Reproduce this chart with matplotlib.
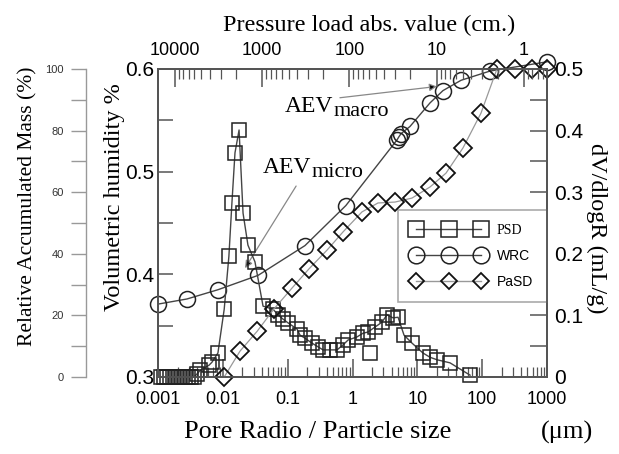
import matplotlib
matplotlib.use('Agg')
import matplotlib.pyplot as plt
from matplotlib.ticker import FixedLocator, LogLocator, NullFormatter, MultipleLocator
from matplotlib.lines import Line2D

# PSD (dV/dlogR, mL/g) -- squares
psd_x = [0.00111, 0.00124, 0.00138, 0.00153, 0.0017, 0.0019, 0.0021, 0.00234, 0.0026, 0.0029,
         0.0032, 0.0036, 0.0040, 0.0045, 0.0061, 0.0068, 0.0084, 0.0105, 0.0124, 0.0138,
         0.0154, 0.0178, 0.0205, 0.0244, 0.0313, 0.0417, 0.0594, 0.071, 0.0847, 0.101,
         0.139, 0.155, 0.185, 0.237, 0.294, 0.351, 0.45, 0.577, 0.714, 0.853,
         1.17, 1.45, 1.73, 2.22, 2.85, 3.40, 4.22, 5.04, 6.23, 8.28,
         12.2, 15.7, 20.1, 31.9, 65.0]
psd_y = [0, 0, 0, 0, 0, 0, 0, 0, 0, 0,
         0, 0, 0.005, 0.011, 0.019, 0.024, 0.039, 0.110, 0.196, 0.282,
         0.364, 0.401, 0.266, 0.214, 0.187, 0.115, 0.110, 0.101, 0.094, 0.088,
         0.078, 0.068, 0.063, 0.055, 0.049, 0.044, 0.044, 0.044, 0.052, 0.060,
         0.065, 0.071, 0.073, 0.081, 0.089, 0.101, 0.096, 0.097, 0.068, 0.055,
         0.039, 0.032, 0.028, 0.023, 0.003]
psd_out_x = [1.86]
psd_out_y = [0.039]

# WRC (volumetric humidity) -- circles
wrc_x = [0.001, 0.0028, 0.0084, 0.035, 0.185, 0.79, 4.87, 5.2, 5.6, 7.7, 15.7, 24.9, 47.2, 132, 1000]
wrc_y = [0.371, 0.376, 0.385, 0.399, 0.428, 0.467, 0.531, 0.534, 0.537, 0.544, 0.567, 0.579, 0.589, 0.598, 0.607]

# PaSD (relative accumulated mass %) -- diamonds
pasd_x = [0.0105, 0.0184, 0.034, 0.0615, 0.117, 0.213, 0.405, 0.714, 1.40, 2.47,
          4.53, 8.28, 15.7, 27.7, 50.7, 96, 169, 321, 587, 1000]
pasd_y = [0, 8.4, 14.9, 22.1, 28.9, 35.1, 41.2, 47.1, 53.6, 56.5,
          56.8, 58.1, 61.7, 66.2, 74.4, 85.7, 100, 100, 100, 100]

x_ticks = [0.001, 0.01, 0.1, 1, 10, 100, 1000]
x_labels = ['0.001', '0.01', '0.1', '1', '10', '100', '1000']
top_ticks = [10000, 1000, 100, 10, 1]
top_labels = ['10000', '1000', '100', '10', '1']

serif = 'Liberation Serif'
sans = 'Liberation Sans'
spine_c = '#555555'
line_c = '#444444'

plt.rcParams['font.family'] = sans
plt.rcParams['axes.linewidth'] = 1.3

W, H = 619, 454
fig = plt.figure(figsize=(W / 100, H / 100), dpi=100)
L, R, T, B = 158, 547, 69, 377
ax = fig.add_axes([L / W, 1 - B / H, (R - L) / W, (B - T) / H])

# main: WRC on inner left axis
ax.set_xscale('log')
ax.set_xlim(0.001, 1000)
ax.set_ylim(0.3, 0.6)
ax.plot(wrc_x, wrc_y, color=line_c, lw=1.0, marker='o', ms=11.5, mfc='none',
        mec='#222222', mew=1.1, clip_on=False, zorder=3)

ax.xaxis.set_major_locator(FixedLocator(x_ticks))
ax.set_xticklabels(x_labels)
ax.xaxis.set_minor_locator(LogLocator(base=10, subs=range(2, 10), numticks=20))
ax.xaxis.set_minor_formatter(NullFormatter())
ax.yaxis.set_major_locator(FixedLocator([0.3, 0.4, 0.5, 0.6]))
ax.set_yticklabels(['0.3', '0.4', '0.5', '0.6'])
ax.yaxis.set_minor_locator(FixedLocator([0.35, 0.45, 0.55]))
ax.tick_params(axis='x', which='major', direction='in', length=13, width=1.1, color=spine_c,
               labelsize=13, pad=10, top=False)
ax.tick_params(axis='x', which='minor', direction='in', length=7, width=0.9, color=spine_c, top=False)
ax.tick_params(axis='y', which='major', direction='in', length=11, width=1.1, color=spine_c,
               labelsize=15, pad=3, right=False)
ax.tick_params(axis='y', which='minor', direction='in', length=11, width=1.1, color=spine_c, right=False)
for s in ax.spines.values():
    s.set_color(spine_c)

# right: PSD
axr = ax.twinx()
axr.set_ylim(0, 0.5)
axr.plot(psd_x, psd_y, color=line_c, lw=1.0, marker='s', ms=10, mfc='none',
         mec='#222222', mew=1.1, clip_on=False, zorder=3)
axr.plot(psd_out_x, psd_out_y, ls='none', marker='s', ms=10, mfc='none',
         mec='#222222', mew=1.1, clip_on=False, zorder=3)
axr.yaxis.set_major_locator(FixedLocator([0, 0.1, 0.2, 0.3, 0.4, 0.5]))
axr.set_yticklabels(['0', '0.1', '0.2', '0.3', '0.4', '0.5'])
axr.yaxis.set_minor_locator(FixedLocator([0.05, 0.15, 0.25, 0.35, 0.45]))
axr.tick_params(axis='y', which='both', direction='in', length=12, width=1.1, color=spine_c,
                labelsize=15, pad=5)
for s in axr.spines.values():
    s.set_color(spine_c)

# outer left: PaSD
axm = ax.twinx()
axm.set_ylim(0, 100)
axm.plot(pasd_x, pasd_y, color='#999999', lw=0.9, marker='D', ms=9.5, mfc='none',
         mec='#111111', mew=1.3, clip_on=False, zorder=3)
for k in ['top', 'right', 'bottom']:
    axm.spines[k].set_visible(False)
axm.spines['left'].set_visible(True)
axm.spines['left'].set_position(('outward', (L - 86) / 100 * 72))
axm.spines['left'].set_color('#999999')
axm.spines['left'].set_linewidth(1.0)
axm.yaxis.set_ticks_position('left')
axm.yaxis.set_label_position('left')
axm.yaxis.set_major_locator(MultipleLocator(20))
axm.yaxis.set_minor_locator(MultipleLocator(10))
axm.tick_params(axis='y', which='both', direction='out', length=11, width=1.0,
                color='#999999', labelsize=8, labelcolor='#333333', pad=5)

# top: pressure load
axt = ax.twiny()
axt.set_xscale('log')
axt.set_xlim(15660, 0.545)
axt.xaxis.set_major_locator(FixedLocator(top_ticks))
axt.set_xticklabels(top_labels)
axt.xaxis.set_minor_locator(LogLocator(base=10, subs=range(2, 10), numticks=20))
axt.xaxis.set_minor_formatter(NullFormatter())
axt.tick_params(axis='x', which='major', direction='in', length=13, width=1.1, color=spine_c,
                labelsize=13, pad=7)
axt.tick_params(axis='x', which='minor', direction='in', length=7, width=0.9, color=spine_c)
for s in axt.spines.values():
    s.set_color(spine_c)

# AEV annotations
def aev(xf, yf, sub, tip, start):
    t = ax.text(xf, yf, 'AEV', transform=ax.transAxes, family=serif, fontsize=17, va='baseline')
    ax.annotate(sub, xy=(1.0, 0.0), xycoords=t, xytext=(0, 1), textcoords='offset points',
                family=serif, fontsize=16, va='baseline', ha='left')
    ax.annotate('', xy=tip, xytext=start, xycoords='data', textcoords='data',
                arrowprops=dict(arrowstyle='-|>', fc='black', ec='#888888', lw=0.9,
                                mutation_scale=11, shrinkA=0, shrinkB=0))

aev(0.27, 0.662, 'micro', (0.022, 0.406), (0.135, 0.486))
aev(0.326, 0.860, 'macro', (20.1, 0.583), (0.64, 0.572))

# legend
handles = [
    Line2D([], [], color=line_c, lw=1.0, marker='s', ms=12, mfc='none', mec='#222222', mew=1.1),
    Line2D([], [], color=line_c, lw=1.0, marker='o', ms=12, mfc='none', mec='#222222', mew=1.1),
    Line2D([], [], color='#999999', lw=1.0, marker='D', ms=8.5, mfc='none', mec='#111111', mew=1.3),
]
leg = axr.legend(handles, ['PSD', 'WRC', 'PaSD'], loc='upper left', bbox_to_anchor=(0.617, 0.542),
                 borderaxespad=0, numpoints=3, handlelength=5.3, handletextpad=0.8,
                 labelspacing=0.85, borderpad=1.0, fontsize=10, fancybox=False, framealpha=1,
                 edgecolor='#aaaaaa')
leg.get_frame().set_linewidth(1.2)
leg.get_texts()[0].set_family(serif)

# axis titles
fig.text(28 / W, 1 - 206 / H, 'Relative Accumulated Mass (%)', rotation=90, family=serif,
         fontsize=15.5, ha='center', va='center')
fig.text(115 / W, 1 - 197 / H, 'Volumetric humidity %', rotation=90, family=serif,
         fontsize=17.5, ha='center', va='center')
fig.text(597 / W, 1 - 228 / H, 'dV/dlogR (mL/g)', rotation=-90, family=serif,
         fontsize=17.5, ha='center', va='center')
fig.text(369 / W, 1 - 25 / H, 'Pressure load abs. value (cm.)', family=serif,
         fontsize=17.5, ha='center', va='center')
fig.text(318 / W, 1 - 432 / H, 'Pore Radio / Particle size', family=serif,
         fontsize=19, ha='center', va='center')
fig.text(567 / W, 1 - 432 / H, '(\u03bcm)', family=serif,
         fontsize=19, ha='center', va='center')

fig.savefig('out.png', dpi=100)
